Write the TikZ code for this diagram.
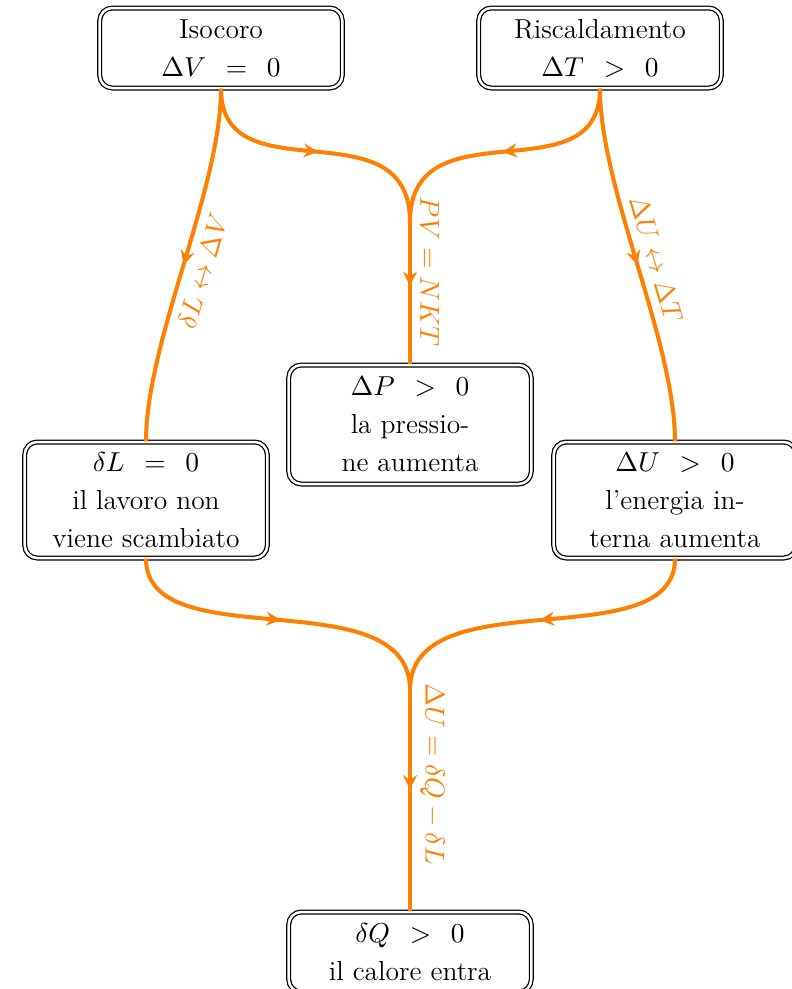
\documentclass[tikz,border=0pt]{standalone}
\usetikzlibrary{arrows.meta,decorations.markings}
% wider spacing around relation signs inside the boxes
\newcommand{\myrel}[1]{\mskip8mu#1\mskip8mu}
\begin{document}
\begin{tikzpicture}[x=0.4pt,y=-0.4pt,
  box/.style={draw, double, double distance=1pt, line width=0.5pt,
    rounded corners=5pt, align=center, minimum width=97pt, inner sep=2pt,
    font=\fontsize{11}{15.2}\selectfont},
  flow/.style={orange, line width=1.6pt, postaction={decorate},
    decoration={markings, mark=at position #1 with
      {\arrow{Stealth[length=5.8pt,width=5.6pt,inset=2pt]}}}},
  flow/.default=0.5,
  lab/.style={text=orange, sloped, font=\fontsize{11}{13}\selectfont}]
\useasboundingbox (0,0) rectangle (792,989);

% states
\node[box, minimum height=32pt]   (iso) at (221,48)    {Isocoro\\ $\Delta V\myrel{=}0$};
\node[box, minimum height=32pt]   (ris) at (600,48)    {Riscaldamento\\ $\Delta T\myrel{>}0$};
\node[box, minimum height=47.6pt] (dp)  at (410,424.5) {$\Delta P\myrel{>}0$\\ la pressio-\\ ne aumenta};
\node[box, minimum height=46.4pt] (dl)  at (146,500)   {$\delta L\myrel{=}0$\\ il lavoro non\\ viene scambiato};
\node[box, minimum height=46.4pt] (du)  at (675,500)   {$\Delta U\myrel{>}0$\\ l'energia in-\\ terna aumenta};
\node[box, minimum height=32pt]   (dq)  at (410,952)   {$\delta Q\myrel{>}0$\\ il calore entra};

% junctions
\coordinate (m1) at (410,222);
\coordinate (m2) at (410,690);

% upper branches
\draw[flow] (iso.south) .. controls +(0,110) and +(0,-120) .. (m1);
\draw[flow] (ris.south) .. controls +(0,110) and +(0,-120) .. (m1);
\draw[flow=0.45] (m1) -- (dp.north) node[lab, pos=0.35, above] {$PV = NKT$};

\draw[flow] (iso.south) .. controls +(0,100) and +(0,-100) .. (dl.north)
  node[lab, pos=0.5, below] {$\delta L \leftrightarrow \Delta V$};
\draw[flow] (ris.south) .. controls +(0,100) and +(0,-100) .. (du.north)
  node[lab, pos=0.5, above] {$\Delta U \leftrightarrow \Delta T$};

% lower branches
\draw[flow] (dl.south) .. controls +(0,101) and +(0,-113) .. (m2);
\draw[flow] (du.south) .. controls +(0,101) and +(0,-113) .. (m2);
\draw[flow=0.45] (m2) -- (dq.north) node[lab, pos=0.38, above] {$\Delta U = \delta Q - \delta L$};
\end{tikzpicture}
\end{document}
